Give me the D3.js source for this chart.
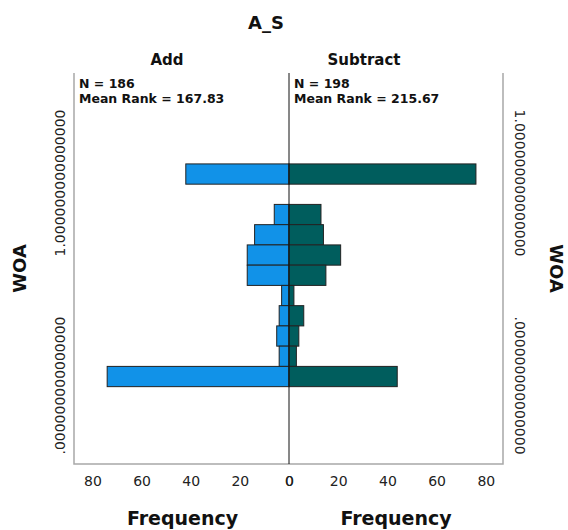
<!DOCTYPE html>
<html lang="en">
<head>
  <meta charset="UTF-8" />
  <title>A_S - WOA population pyramid</title>
  <style>
    body {
      margin: 0;
      background-color: #fff;
      font-family: "DejaVu Sans", Arial, sans-serif;
    }

    svg {
      display: block;
    }

    .frame {
      stroke: #a8a8a8;
      stroke-width: 1.5px;
      fill: none;
    }

    .bar {
      stroke: #222;
      stroke-width: 1px;
    }

    .tick-label {
      font-size: 14px;
      fill: #222;
    }

    .stat {
      font-size: 12.5px;
      font-weight: bold;
      fill: #111;
    }
  </style>
</head>
<body>
  <svg width="568" height="530"></svg>

  <script src="https://cdnjs.cloudflare.com/ajax/libs/d3/7.8.5/d3.min.js"></script>
  <script>
    // WOA bins (bin centres), top to bottom
    const bins = [1.0, 0.9, 0.8, 0.7, 0.6, 0.5, 0.4, 0.3, 0.2, 0.1, 0.0];
    const addCounts = [42, 0, 6, 14, 17, 17, 3, 4, 5, 4, 74];
    const subCounts = [76, 0, 13, 14, 21, 15, 2, 6, 4, 3, 44];

    const groups = ["Add", "Subtract"];
    const groupStats = [
      ["N = 186", "Mean Rank = 167.83"],
      ["N = 198", "Mean Rank = 215.67"]
    ];
    const freqTicks = [0, 20, 40, 60, 80];
    const yTicks = [0, 1];
    const yTickLabels = [".000000000000000", "1.000000000000000"];

    const binWidth = 0.1;

    // Plot area
    const plotLeft = 74, plotRight = 503, plotMid = 289, plotTop = 73, plotBottom = 464;

    const svg = d3.select("svg");

    const y = d3.scaleLinear().domain([-0.432, 1.499]).range([plotBottom, plotTop]);
    const xLeft = d3.scaleLinear().domain([0, 87.5]).range([plotMid, plotLeft]);
    const xRight = d3.scaleLinear().domain([0, 87]).range([plotMid, plotRight]);

    const blue = "#1192e8";
    const teal = "#005d5d";

    // Frame: left, bottom, right
    svg.append("path")
      .attr("class", "frame")
      .attr("d", `M${plotLeft},${plotTop}V${plotBottom}H${plotRight}V${plotTop}`);

    const rows = bins.map((v, i) => ({ v, add: addCounts[i], sub: subCounts[i] }));

    // Add (left side)
    svg.append("g")
      .selectAll("rect")
      .data(rows.filter(d => d.add > 0))
      .join("rect")
      .attr("class", "bar")
      .attr("fill", blue)
      .attr("x", d => xLeft(d.add))
      .attr("width", d => xLeft(0) - xLeft(d.add))
      .attr("y", d => y(d.v + binWidth / 2))
      .attr("height", d => y(d.v - binWidth / 2) - y(d.v + binWidth / 2));

    // Subtract (right side)
    svg.append("g")
      .selectAll("rect")
      .data(rows.filter(d => d.sub > 0))
      .join("rect")
      .attr("class", "bar")
      .attr("fill", teal)
      .attr("x", xRight(0))
      .attr("width", d => xRight(d.sub) - xRight(0))
      .attr("y", d => y(d.v + binWidth / 2))
      .attr("height", d => y(d.v - binWidth / 2) - y(d.v + binWidth / 2));

    // centre line
    svg.append("line")
      .attr("x1", plotMid).attr("x2", plotMid)
      .attr("y1", plotTop).attr("y2", plotBottom)
      .attr("stroke", "#111")
      .attr("stroke-width", 1);

    // Frequency axes (labels only, no tick marks)
    const xAxisL = d3.axisBottom(xLeft).tickValues(freqTicks).tickSize(0).tickPadding(12);
    const xAxisR = d3.axisBottom(xRight).tickValues(freqTicks).tickSize(0).tickPadding(12);
    [xAxisL, xAxisR].forEach(ax => {
      const g = svg.append("g").attr("transform", `translate(0,${plotBottom})`).call(ax);
      g.select(".domain").remove();
      g.selectAll("text")
        .attr("class", "tick-label")
        .attr("font-family", "DejaVu Sans")
        .attr("font-size", 14)
        .attr("fill", "#222");
    });

    // WOA tick labels, rotated, on both sides
    svg.append("g")
      .selectAll("text")
      .data(yTicks)
      .join("text")
      .attr("class", "tick-label")
      .attr("text-anchor", "middle")
      .attr("dominant-baseline", "central")
      .attr("transform", d => `translate(60,${y(d) + 9}) rotate(-90)`)
      .text((d, i) => yTickLabels[i]);

    svg.append("g")
      .selectAll("text")
      .data(yTicks)
      .join("text")
      .attr("class", "tick-label")
      .attr("text-anchor", "middle")
      .attr("dominant-baseline", "central")
      .attr("transform", d => `translate(520,${y(d) + 9}) rotate(90)`)
      .text((d, i) => yTickLabels[i]);

    // Stats in each panel
    [plotLeft, plotMid].forEach((x0, i) => {
      groupStats[i].forEach((s, j) => {
        svg.append("text")
          .attr("class", "stat")
          .attr("x", x0 + 5)
          .attr("y", 88 + j * 14.5)
          .text(s);
      });
    });

    // Titles
    svg.append("text")
      .attr("x", 266).attr("y", 29)
      .attr("text-anchor", "middle")
      .attr("font-size", 18).attr("font-weight", "bold")
      .attr("fill", "#111")
      .text("A_S");

    svg.selectAll(".group-title")
      .data(groups)
      .join("text")
      .attr("class", "group-title")
      .attr("x", (d, i) => i === 0 ? 167 : 364)
      .attr("y", 65)
      .attr("text-anchor", "middle")
      .attr("font-size", 15).attr("font-weight", "bold")
      .attr("fill", "#111")
      .text(d => d);

    // Frequency titles
    [(plotLeft + plotMid) / 2 + 1, (plotMid + plotRight) / 2].forEach(cx => {
      svg.append("text")
        .attr("x", cx).attr("y", 525)
        .attr("text-anchor", "middle")
        .attr("font-size", 19).attr("font-weight", "bold")
        .attr("fill", "#111")
        .text("Frequency");
    });

    // WOA titles
    const yMidPx = (plotTop + plotBottom) / 2;
    svg.append("text")
      .attr("transform", `translate(19,${yMidPx}) rotate(-90)`)
      .attr("text-anchor", "middle")
      .attr("dominant-baseline", "central")
      .attr("font-size", 18).attr("font-weight", "bold")
      .attr("fill", "#111")
      .text("WOA");

    svg.append("text")
      .attr("transform", `translate(556,${yMidPx}) rotate(90)`)
      .attr("text-anchor", "middle")
      .attr("dominant-baseline", "central")
      .attr("font-size", 18).attr("font-weight", "bold")
      .attr("fill", "#111")
      .text("WOA");
  </script>
</body>
</html>
